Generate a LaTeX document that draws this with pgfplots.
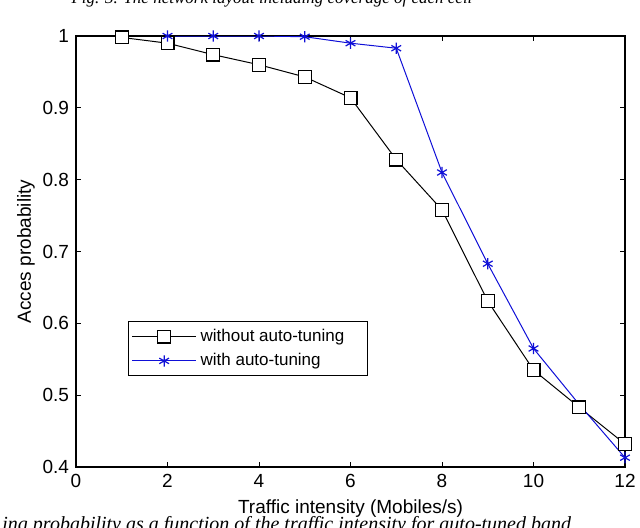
\documentclass[border=0pt]{standalone}
\usepackage{fontspec}
\setmainfont{Liberation Sans}
\newfontfamily\capfont{Liberation Serif}
\usepackage{pgfplots}
\pgfplotsset{compat=1.18}
\definecolor{matblue}{RGB}{15,15,215}

\begin{document}
\begin{tikzpicture}[x=1pt,y=1pt]
\begin{axis}[
  at={(38pt,30pt)}, anchor=south west,
  scale only axis, width=274.5pt, height=215.5pt,
  xmin=0, xmax=12, ymin=0.4, ymax=1,
  xtick={0,2,4,6,8,10,12},
  ytick={0.4,0.5,0.6,0.7,0.8,0.9,1},
  tick align=inside, major tick length=2.5pt,
  axis line style={line width=0.6pt},
  tick style={line width=0.5pt, black},
  ticklabel style={font=\fontsize{9.5}{11}\selectfont},
  /pgf/number format/assume math mode=true,
  yticklabel style={/pgf/number format/fixed, /pgf/number format/precision=1},
  xlabel={Traffic intensity (Mobiles/s)},
  ylabel={Acces probability},
  label style={font=\fontsize{9.5}{11}\selectfont},
  xlabel style={yshift=1pt},
  ylabel style={yshift=-3pt},
  legend cell align=left,
  legend style={at={(0.095,0.211)}, anchor=south west,
    draw=black, line width=0.5pt, inner sep=1.5pt,
    font=\fontsize{8.5}{10}\selectfont, row sep=0.5pt},
  legend image code/.code={%
    \draw[mark=none] (0pt,0pt) -- (32pt,0pt);
    \draw[only marks] plot coordinates {(16pt,0pt)};},
]
\addplot[black, line width=0.5pt, mark=square*, mark size=3.2pt,
  mark options={fill=white, line width=0.6pt}]
  coordinates {(1,0.998) (2,0.990) (3,0.974) (4,0.960) (5,0.943) (6,0.914)
    (7,0.828) (8,0.758) (9,0.631) (10,0.535) (11,0.483) (12,0.432)};
\addlegendentry{without auto-tuning\hspace*{8pt}}
\addplot[matblue, line width=0.5pt, mark=asterisk, mark size=2.8pt,
  mark options={line width=0.6pt}, mark indices={1,2,3,4,5,6,7,8,9,11}]
  coordinates {(2,1.0) (3,1.0) (4,1.0) (5,0.999) (6,0.990) (7,0.983)
    (8,0.810) (9,0.683) (10,0.565) (11,0.487) (12,0.413)};
\addlegendentry{with auto-tuning}
\end{axis}
\node[anchor=base, font=\capfont\itshape\fontsize{8.5}{10}\selectfont]
  at (136pt,262pt) {Fig. 3. The network layout including coverage of each cell};
\node[anchor=base west, inner sep=0pt, font=\capfont\itshape\fontsize{10}{12}\selectfont]
  at (1pt,-1.5pt) {ing probability as a function of the traffic intensity for auto-tuned band};
\pgfresetboundingbox
\useasboundingbox (0pt,0pt) rectangle (320pt,263.5pt);
\end{tikzpicture}
\end{document}
